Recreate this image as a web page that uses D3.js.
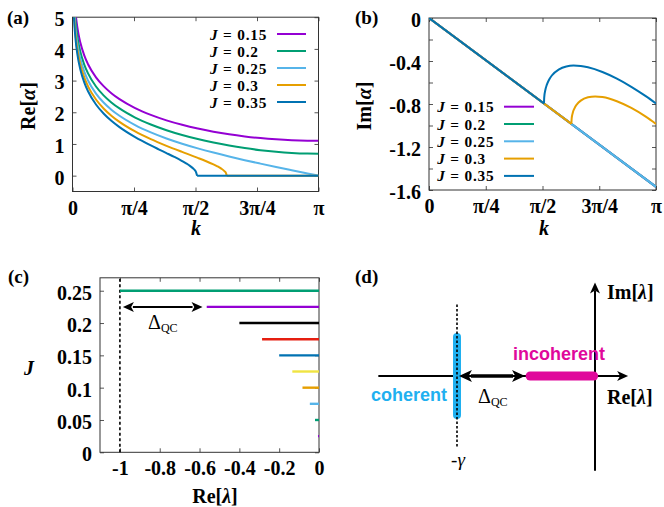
<!DOCTYPE html>
<html><head><meta charset="utf-8">
<script src="https://cdn.jsdelivr.net/npm/d3@7/dist/d3.min.js"></script>
<style>body{margin:0;background:#fff}svg{display:block}</style>
</head><body>
<svg id="c" width="664" height="507"></svg>
<script>
// ---------------- DATA ----------------
const kTicks = [0, Math.PI/4, Math.PI/2, 3*Math.PI/4, Math.PI];
const kTickLabels = ["0", "π/4", "π/2", "3π/4", "π"];
const reTicksA = [0, 1, 2, 3, 4, 5];
const imTicksB = [0, -0.4, -0.8, -1.2, -1.6];
const imTickLabelsB = ["0", "-0.4", "-0.8", "-1.2", "-1.6"];
const imMinorB = [-0.2, -0.6, -1.0, -1.4];
const Jvalues = ["0.15", "0.2", "0.25", "0.3", "0.35"];
const Jcolors = ["#9400d3", "#009e73", "#56b4e9", "#e69f00", "#0072b2"];

// Re[alpha] vs k, each series as segments of [k, value]
const reA_015 = [[[0.01,6.502],[0.02,5.809],[0.03,5.404],[0.05,4.893],[0.075,4.488],[0.1,4.200],[0.15,3.795],[0.2,3.507],[0.3,3.103],[0.4,2.816],[0.5,2.595],[0.6,2.415],[0.8,2.133],[1.0,1.918],[1.2,1.745],[1.4,1.604],[1.6,1.486],[1.8,1.388],[2.0,1.306],[2.2,1.239],[2.4,1.185],[2.6,1.145],[2.8,1.117],[3.0,1.102],[3.1416,1.099]]];
const reA_020 = [[[0.01,6.215],[0.02,5.521],[0.03,5.116],[0.05,4.605],[0.075,4.200],[0.1,3.912],[0.15,3.506],[0.2,3.219],[0.3,2.814],[0.4,2.526],[0.5,2.303],[0.6,2.121],[0.8,1.834],[1.0,1.613],[1.2,1.433],[1.4,1.282],[1.6,1.154],[1.8,1.044],[2.0,0.949],[2.2,0.870],[2.4,0.804],[2.6,0.753],[2.8,0.717],[3.0,0.697],[3.1416,0.693]]];
const reA_025 = [[[0.01,5.991],[0.02,5.298],[0.03,4.893],[0.05,4.382],[0.075,3.977],[0.1,3.688],[0.15,3.283],[0.2,2.995],[0.3,2.589],[0.4,2.299],[0.5,2.074],[0.6,1.890],[0.8,1.596],[1.0,1.365],[1.2,1.173],[1.4,1.008],[1.6,0.861],[1.8,0.728],[2.0,0.605],[2.2,0.489],[2.4,0.380],[2.6,0.274],[2.8,0.172],[3.0,0.071],[3.1416,0]]];
const reA_030 = [[[0.01,5.809],[0.02,5.116],[0.03,4.711],[0.05,4.200],[0.075,3.794],[0.1,3.506],[0.15,3.100],[0.2,2.811],[0.3,2.404],[0.4,2.113],[0.5,1.885],[0.6,1.697],[0.8,1.394],[1.0,1.151],[1.2,0.941],[1.4,0.749],[1.45,0.702],[1.5,0.655],[1.6,0.561],[1.7,0.463],[1.8,0.355],[1.85,0.294],[1.9,0.221],[1.94,0.143],[1.96,0.083],[1.9702,0]],
                 [[1.9702,0],[3.1416,0]]];
const reA_035 = [[[0.01,5.655],[0.02,4.962],[0.03,4.556],[0.05,4.046],[0.075,3.639],[0.1,3.352],[0.15,2.945],[0.2,2.656],[0.3,2.246],[0.4,1.953],[0.5,1.722],[0.6,1.530],[0.8,1.215],[1.0,0.953],[1.1,0.832],[1.2,0.713],[1.3,0.592],[1.4,0.462],[1.45,0.390],[1.5,0.308],[1.55,0.204],[1.575,0.128],[1.5912,0]],
                 [[1.5912,0],[3.1416,0]]];

// Im[alpha] vs k
const imA_015 = [[[0,0],[3.1416,-1.5708]]];
const imA_020 = [[[0,0],[3.1416,-1.5708]]];
const imA_025 = [[[0,0],[3.1416,-1.5708]]];
const imA_030 = [[[0,0],[1.9702,-0.9851]],
                 [[1.9702,-0.9851],[1.975,-0.9312],[1.99,-0.8812],[2.01,-0.8446],[2.05,-0.8008],[2.1,-0.7687],[2.2,-0.7376],[2.3,-0.7297],[2.4,-0.7356],[2.6,-0.7741],[2.8,-0.8369],[3.0,-0.9181],[3.1416,-0.9851]]];
const imA_035 = [[[0,0],[1.5912,-0.7956]],
                 [[1.5912,-0.7956],[1.595,-0.7365],[1.61,-0.6701],[1.63,-0.6225],[1.66,-0.5762],[1.7,-0.5349],[1.8,-0.477],[1.9,-0.4511],[2.0,-0.443],[2.1,-0.4467],[2.2,-0.459],[2.4,-0.5024],[2.6,-0.5642],[2.8,-0.64],[3.0,-0.7274],[3.1416,-0.7956]]];

// Panel (c): spectrum bands
const Jc = [0.025, 0.05, 0.075, 0.1, 0.125, 0.15, 0.175, 0.2, 0.225, 0.25];
const reLambdaMin = [-0.005, -0.020, -0.046, -0.083, -0.134, -0.2, -0.286, -0.4, -0.564, -1.0];
const Ccolors = ["#9400d3", "#009e73", "#56b4e9", "#e69f00", "#f0e442", "#0072b2", "#e51e10", "#000000", "#9400d3", "#009e73"];
const xTicksC = [-1, -0.8, -0.6, -0.4, -0.2, 0];
const xTickLabelsC = ["-1", "-0.8", "-0.6", "-0.4", "-0.2", "0"];
const yTicksC = [0, 0.05, 0.1, 0.15, 0.2, 0.25];
const yTickLabelsC = ["0", "0.05", "0.1", "0.15", "0.2", "0.25"];
const gammaLineC = -1;
const deltaArrowC = [-0.985, -0.585, 0.225];

// Panel (d): schematic (units of gamma)
const dGamma = -1;
const dCoherentIm = [-1, 1];
const dIncoherentRe = [-0.47, -0.01];
const dReAxis = [-1.57, 0.24];
const dImAxis = [-2.43, 2.40];
const dDotted = [-1.81, 1.87];
const dDeltaArrow = [-0.986, -0.507];

// ---------------- DRAW ----------------
const SERIF = "'Liberation Serif','Times New Roman',serif";
const SANS = "'Liberation Sans',Arial,sans-serif";
const svg = d3.select("#c");
svg.append("rect").attr("width",664).attr("height",507).attr("fill","#fff");

function styleAxis(g){
  g.select(".domain").remove();
  g.selectAll(".tick line").attr("stroke","#555").attr("stroke-width",1);
  g.selectAll(".tick text").attr("font-family",SERIF).attr("font-weight","bold").attr("font-size","20px").attr("fill","#000");
}
function frame(x, y, xt, xl, yt, yl, yMinor){
  const [x0,x1]=x.range(), [y0,y1]=y.range();
  const gb = svg.append("g").attr("transform",`translate(0,${y0})`)
    .call(d3.axisBottom(x).tickValues(xt).tickFormat((d,i)=>xl[i]).tickSize(-4).tickPadding(9));
  styleAxis(gb);
  const gt = svg.append("g").attr("transform",`translate(0,${y1})`)
    .call(d3.axisTop(x).tickValues(xt).tickFormat("").tickSize(-4));
  styleAxis(gt);
  const gl = svg.append("g").attr("transform",`translate(${x0},0)`)
    .call(d3.axisLeft(y).tickValues(yt).tickFormat((d,i)=>yl[i]).tickSize(-4).tickPadding(8));
  styleAxis(gl); gl.selectAll(".tick text").attr("dy","0.42em");
  const gr = svg.append("g").attr("transform",`translate(${x1},0)`)
    .call(d3.axisRight(y).tickValues(yt).tickFormat("").tickSize(-4));
  styleAxis(gr);
  if(yMinor){
    [[x0,d3.axisLeft],[x1,d3.axisRight]].forEach(([xx,ax])=>{
      const gm = svg.append("g").attr("transform",`translate(${xx},0)`)
        .call(ax(y).tickValues(yMinor).tickFormat("").tickSize(-4));
      styleAxis(gm);
    });
  }
  svg.append("rect").attr("x",x0).attr("y",y1).attr("width",x1-x0).attr("height",y0-y1)
    .attr("fill","none").attr("stroke","#333").attr("stroke-width",1);
}
function clip(id,x,y){
  const [x0,x1]=x.range(), [y0,y1]=y.range();
  svg.append("clipPath").attr("id",id).append("rect").attr("x",x0).attr("y",y1).attr("width",x1-x0).attr("height",y0-y1);
}
function txt(x,y,parts,opts){
  const t = svg.append("text").attr("x",x).attr("y",y)
    .attr("font-family",opts.family||SERIF).attr("font-size",opts.size||"19px")
    .attr("font-weight",opts.weight||"bold").attr("fill",opts.fill||"#000")
    .attr("text-anchor",opts.anchor||"start");
  if(opts.ls) t.attr("letter-spacing",opts.ls);
  if(opts.rotate) t.attr("transform",`rotate(${opts.rotate},${x},${y})`);
  parts.forEach(p=>{
    const s=t.append("tspan").text(p.t);
    if(p.i) s.attr("font-style","italic");
    if(p.size) s.attr("font-size",p.size);
    if(p.dy) s.attr("dy",p.dy);
    if(p.w) s.attr("font-weight",p.w);
  });
  return t;
}

// ---- Panel (a)
const xA = d3.scaleLinear([0,Math.PI],[72.5,318.5]);
const yA = d3.scaleLinear([-0.5,5],[191.5,17.2]);
frame(xA,yA,kTicks,kTickLabels,reTicksA,reTicksA.map(String));
clip("clipA",xA,yA);
const lineA = d3.line().x(d=>xA(d[0])).y(d=>yA(d[1])).curve(d3.curveMonotoneX);
const gA = svg.append("g").attr("clip-path","url(#clipA)");
[reA_015,reA_020,reA_025,reA_030,reA_035].forEach((segs,i)=>{
  segs.forEach(s=>gA.append("path").attr("d",lineA(s)).attr("fill","none")
    .attr("stroke",Jcolors[i]).attr("stroke-width",2).attr("stroke-linejoin","round"));
});
Jvalues.forEach((v,i)=>{
  const yy = 34 + i*17;
  txt(210,yy+5.5,[{t:"J",i:true},{t:" = "+v}],{size:"15.3px",ls:"0.8px"});
  svg.append("line").attr("x1",277).attr("x2",306).attr("y1",yy).attr("y2",yy)
    .attr("stroke",Jcolors[i]).attr("stroke-width",2);
});
txt(35,106,[{t:"Re["},{t:"α",i:true},{t:"]"}],{size:"20px",anchor:"middle",rotate:-90});
txt(196,235,[{t:"k",i:true}],{size:"20px",anchor:"middle"});
txt(7,24,[{t:"(a)"}],{size:"19px"});

// ---- Panel (b)
const xB = d3.scaleLinear([0,Math.PI],[429,656]);
const yB = d3.scaleLinear([-1.6,0],[190,18]);
frame(xB,yB,kTicks,kTickLabels,imTicksB,imTickLabelsB,imMinorB);
clip("clipB",xB,yB);
const lineB = d3.line().x(d=>xB(d[0])).y(d=>yB(d[1])).curve(d3.curveMonotoneX);
const gB = svg.append("g").attr("clip-path","url(#clipB)");
[imA_015,imA_020,imA_025,imA_030,imA_035].forEach((segs,i)=>{
  segs.forEach(s=>gB.append("path").attr("d",lineB(s)).attr("fill","none")
    .attr("stroke",Jcolors[i]).attr("stroke-width",2).attr("stroke-linejoin","round"));
});
Jvalues.forEach((v,i)=>{
  const yy = 106.7 + i*17.3;
  txt(437.3,yy+5.5,[{t:"J",i:true},{t:" = "+v}],{size:"15.3px",ls:"0.8px"});
  svg.append("line").attr("x1",504).attr("x2",534).attr("y1",yy).attr("y2",yy)
    .attr("stroke",Jcolors[i]).attr("stroke-width",2);
});
txt(371,106,[{t:"Im["},{t:"α",i:true},{t:"]"}],{size:"20px",anchor:"middle",rotate:-90});
txt(544,235,[{t:"k",i:true}],{size:"20px",anchor:"middle"});
txt(355,24,[{t:"(b)"}],{size:"19px"});

// ---- Panel (c)
const xC = d3.scaleLinear([-1.1,0],[100,319]);
const yC = d3.scaleLinear([0,0.27],[452.3,277.8]);
frame(xC,yC,xTicksC,xTickLabelsC,yTicksC,yTickLabelsC);
svg.append("line").attr("x1",xC(gammaLineC)).attr("x2",xC(gammaLineC))
  .attr("y1",yC(0)).attr("y2",yC(0.27)).attr("stroke","#000").attr("stroke-width",1.6)
  .attr("stroke-dasharray","3,2.5");
Jc.forEach((j,i)=>{
  svg.append("line").attr("x1",xC(reLambdaMin[i])).attr("x2",xC(0))
    .attr("y1",yC(j)).attr("y2",yC(j)).attr("stroke",Ccolors[i]).attr("stroke-width",2.4);
});
function dblArrow(xa,xb,yy,hl,hw,sw){
  svg.append("line").attr("x1",xa+hl-1).attr("x2",xb-hl+1).attr("y1",yy).attr("y2",yy)
    .attr("stroke","#000").attr("stroke-width",sw);
  svg.append("path").attr("d",`M${xa},${yy}L${xa+hl},${yy-hw}L${xa+hl*0.75},${yy}L${xa+hl},${yy+hw}Z`).attr("fill","#000");
  svg.append("path").attr("d",`M${xb},${yy}L${xb-hl},${yy-hw}L${xb-hl*0.75},${yy}L${xb-hl},${yy+hw}Z`).attr("fill","#000");
}
dblArrow(xC(deltaArrowC[0]),xC(deltaArrowC[1]),yC(deltaArrowC[2]),11,5,2);
txt(148,329,[{t:"Δ",w:"normal"},{t:"QC",size:"12px",dy:"3",w:"normal"}],{size:"20px",weight:"normal"});
txt(29,375,[{t:"J",i:true}],{size:"20px",anchor:"middle"});
txt(215,503,[{t:"Re["},{t:"λ",i:true},{t:"]"}],{size:"20px",anchor:"middle"});
txt(8,283,[{t:"(c)"}],{size:"19px"});

// ---- Panel (d)
const xD = d3.scaleLinear([-1,0],[457,595]);
const yD = d3.scaleLinear([-1,1],[415,337]);
svg.append("line").attr("x1",xD(dReAxis[0])).attr("x2",xD(dReAxis[1])-8).attr("y1",yD(0)).attr("y2",yD(0))
  .attr("stroke","#000").attr("stroke-width",2);
svg.append("path").attr("d",`M${xD(dReAxis[1])},${yD(0)}L${xD(dReAxis[1])-11},${yD(0)-5}L${xD(dReAxis[1])-8},${yD(0)}L${xD(dReAxis[1])-11},${yD(0)+5}Z`).attr("fill","#000");
svg.append("line").attr("x1",xD(0)).attr("x2",xD(0)).attr("y1",yD(dImAxis[0])).attr("y2",yD(dImAxis[1])+8)
  .attr("stroke","#000").attr("stroke-width",2);
svg.append("path").attr("d",`M${xD(0)},${yD(dImAxis[1])}L${xD(0)-5},${yD(dImAxis[1])+11}L${xD(0)},${yD(dImAxis[1])+8}L${xD(0)+5},${yD(dImAxis[1])+11}Z`).attr("fill","#000");
svg.append("line").attr("x1",xD(dGamma)).attr("x2",xD(dGamma)).attr("y1",yD(dCoherentIm[0])).attr("y2",yD(dCoherentIm[1]))
  .attr("stroke","#1fb0f0").attr("stroke-width",8).attr("stroke-linecap","round");
svg.append("line").attr("x1",xD(dGamma)).attr("x2",xD(dGamma)).attr("y1",yD(dDotted[0])).attr("y2",yD(dDotted[1]))
  .attr("stroke","#000").attr("stroke-width",1.6).attr("stroke-dasharray","2.5,2");
svg.append("line").attr("x1",xD(dIncoherentRe[0])).attr("x2",xD(dIncoherentRe[1])).attr("y1",yD(0)).attr("y2",yD(0))
  .attr("stroke","#e0089b").attr("stroke-width",9).attr("stroke-linecap","round");
dblArrow(xD(dDeltaArrow[0]),xD(dDeltaArrow[1]),yD(0),13,6,3.5);
txt(607,299,[{t:"Im["},{t:"λ",i:true},{t:"]"}],{size:"20px"});
txt(607,404,[{t:"Re["},{t:"λ",i:true},{t:"]"}],{size:"20px"});
txt(458,466,[{t:"-"},{t:"γ",i:true}],{size:"19px",weight:"normal",anchor:"middle"});
txt(447,401,[{t:"coherent"}],{family:SANS,size:"18px",fill:"#1fb0f0",anchor:"end"});
txt(513,360,[{t:"incoherent"}],{family:SANS,size:"18px",fill:"#e0089b"});
txt(478,403,[{t:"Δ",w:"normal"},{t:"QC",size:"12px",dy:"3",w:"normal"}],{size:"20px",weight:"normal"});
txt(355,283,[{t:"(d)"}],{size:"19px"});
</script>
</body></html>
